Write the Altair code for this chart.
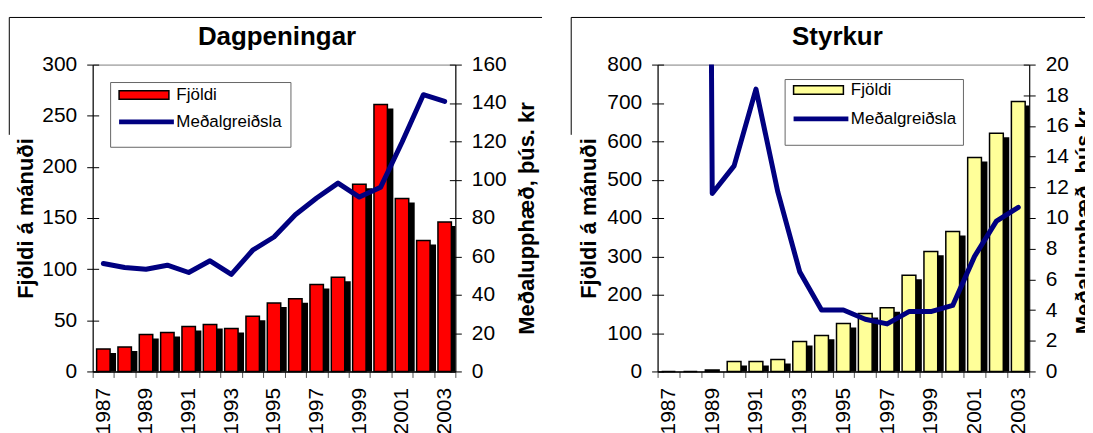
import altair as alt
import pandas as pd

FONT = "Liberation Sans"

years = [str(y) for y in range(1987, 2004)]

# Dagpeningar
dag_fjoldi = [22, 24, 36, 38, 44, 46, 42, 54, 67, 71, 85, 92, 183, 261, 169, 128, 146]
dag_medal = [56.3, 54.2, 53.3, 55.4, 51.6, 57.7, 50.6, 63.2, 70.1, 81.7, 90.4, 98.2, 90.9, 96.1, 119.5, 144.3, 140.8]

# Styrkur
sty_fjoldi = [0, 0, 4, 26, 26, 31, 78, 94, 125, 151, 166, 251, 313, 365, 558, 621, 704]
sty_medal = [None, 250, 11.6, 13.4, 18.4, 11.7, 6.5, 4.0, 4.0, 3.4, 3.1, 3.9, 3.9, 4.3, 7.5, 9.8, 10.7]

series = ["Fjöldi", "Meðalgreiðsla"]


def panel(title, fjoldi, medal, bar_color, left_vals, right_vals, width, height,
          left_title, right_title, box, rows, frame, title_dx,
          left_title_pad, right_title_pad):
    df = pd.DataFrame({"year": years, "v": fjoldi, "s": series[0]})
    dl = pd.DataFrame({"year": years, "m": medal, "s": series[1]})

    x = alt.X("year:N", scale=alt.Scale(domain=years, paddingInner=0, paddingOuter=0),
              axis=alt.Axis(title=None, labelAngle=270, labelOverlap=False,
                            labelExpr="toNumber(datum.value) % 2 == 1 ? datum.label : ''",
                            tickBand="extent", tickSize=6, labelPadding=10,
                            domainColor="black", domainWidth=1.5, tickColor="#555"))

    yleft_axis = alt.Axis(values=left_vals, tickSize=6, labelPadding=10, title=left_title,
                          titlePadding=left_title_pad, grid=True, gridDash=[6, 3000],
                          gridColor="black", gridWidth=1)
    yleft_scale = alt.Scale(domain=[left_vals[0], left_vals[-1]], nice=False)

    bx0, by0, bx1, by1 = box
    fill = alt.Fill("s:N", scale=alt.Scale(domain=[series[0]], range=[bar_color]),
                    legend=alt.Legend(title=None, orient="none", legendX=bx0 + 2, legendY=by0 + rows[0],
                                      labelFont=FONT, labelFontSize=17, labelColor="black",
                                      symbolType="M-1,-0.85H9V0.85H-1Z", symbolSize=100,
                                      symbolStrokeColor="black", symbolStrokeWidth=1.5,
                                      symbolOpacity=1, labelOffset=44, padding=3))
    stroke = alt.Stroke("s:N", scale=alt.Scale(domain=[series[1]], range=["#000080"]),
                        legend=alt.Legend(title=None, orient="none", legendX=bx0 + 2,
                                          legendY=by0 + rows[1],
                                          labelFont=FONT, labelFontSize=17, labelColor="black",
                                          symbolType="M-1,0H10", symbolSize=100,
                                          symbolStrokeWidth=5, symbolOpacity=1,
                                          labelOffset=44, padding=3))

    shadow = alt.Chart(df).mark_bar(
        color="black", xOffset=6, yOffset=4, y2Offset=0, clip=True,
        width=alt.RelativeBandSize(0.63)
    ).encode(x=x, y=alt.Y("v:Q", scale=yleft_scale, axis=yleft_axis))

    bars = alt.Chart(df).mark_bar(
        stroke="black", strokeWidth=1.5, width=alt.RelativeBandSize(0.63)
    ).encode(x=x, y=alt.Y("v:Q", scale=yleft_scale, axis=yleft_axis), fill=fill)

    one = pd.DataFrame({"k": [0]})
    fr = alt.Chart(one).mark_rule(color="black", strokeWidth=1)
    fl, ft, frt, fb = frame
    decor = [
        fr.encode(x=alt.value(fl), y=alt.value(ft), y2=alt.value(fb)),
        fr.encode(x=alt.value(fl), x2=alt.value(frt), y=alt.value(ft)),
    ]
    if frt < width + 60:
        decor.append(fr.encode(x=alt.value(frt), y=alt.value(ft), y2=alt.value(fb)))
    decor.append(alt.Chart(one).mark_rect(fill="white", stroke="#666666", strokeWidth=1).encode(
        x=alt.value(bx0), x2=alt.value(bx1), y=alt.value(by0), y2=alt.value(by1)))

    left = alt.layer(shadow, bars, *decor)

    line = alt.Chart(dl).mark_line(strokeWidth=5, clip=True, strokeJoin="round", strokeCap="round").encode(
        x=x,
        y=alt.Y("m:Q", scale=alt.Scale(domain=[right_vals[0], right_vals[-1]], nice=False),
                axis=alt.Axis(values=right_vals, orient="right", tickSize=6, labelPadding=10,
                              title=right_title, titleAngle=270, titleBaseline="top",
                              titlePadding=right_title_pad, grid=True, gridDash=[6, 3000],
                              gridColor="black", gridWidth=1)),
        stroke=stroke,
    )

    return alt.layer(left, line).resolve_scale(y="independent").properties(
        width=width, height=height,
        title=alt.TitleParams(title, font=FONT, fontSize=26, fontWeight="bold",
                              anchor="middle", frame="group", dx=title_dx, dy=39,
                              offset=6, color="black"),
    )


p1 = panel("Dagpeningar", dag_fjoldi, dag_medal, "#FF0000",
           [0, 50, 100, 150, 200, 250, 300], [0, 20, 40, 60, 80, 100, 120, 140, 160],
           364, 308, "Fjöldi á mánuði", "Meðalupphæð, þús. kr", (18, 18, 199, 83), (1, 28),
           (-83.7, -47.3, 451, 70.5), 3, 4, 10)

p2 = panel("Styrkur", sty_fjoldi, sty_medal, "#FFFF99",
           [0, 100, 200, 300, 400, 500, 600, 700, 800], [0, 2, 4, 6, 8, 10, 12, 14, 16, 18, 20],
           373, 308, "Fjöldi á mánuði", "Meðalupphæð, þús.kr.", (128, 15, 307, 81), (-1, 28),
           (-86.7, -47.3, 440, 70.5), -6, 6, 5)

chart = alt.hconcat(p1, p2, spacing=203, bounds="flush").resolve_scale(
    fill="independent", stroke="independent"
).configure(
    font=FONT, padding={"left": 0, "top": 7, "right": -12, "bottom": 0}
).configure_axis(
    labelFont=FONT, labelFontSize=21, labelColor="black",
    titleFont=FONT, titleFontSize=22, titleFontWeight="bold", titleColor="black",
    domainColor="black", tickColor="black"
).configure_view(stroke="#808080", strokeWidth=1)

chart.save("out.html", embed_options={"renderer": "svg", "actions": False})
